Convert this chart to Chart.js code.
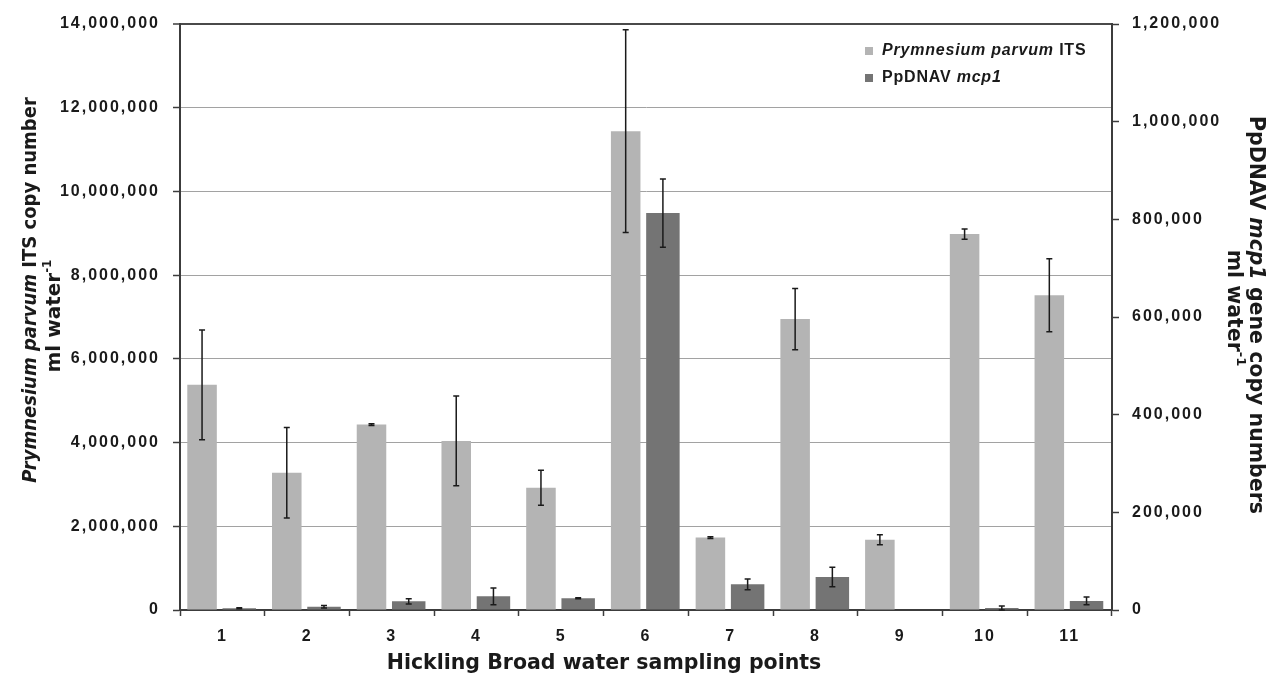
<!DOCTYPE html>
<html>
<head>
<meta charset="utf-8">
<title>Hickling Broad water sampling points</title>
<script src="https://cdn.jsdelivr.net/npm/chart.js@4.4.1/dist/chart.umd.min.js"></script>
<style>
  html, body { margin: 0; padding: 0; background: #fff; }
  #chart { display: block; }
</style>
</head>
<body>
<canvas id="chart" width="1269" height="673"></canvas>
<script>
// sampling points
var samplingPoints = ['1', '2', '3', '4', '5', '6', '7', '8', '9', '10', '11'];

// Prymnesium parvum ITS copies per ml (left axis) and their error bars
var itsCopies = [5380000, 3280000, 4430000, 4040000, 2920000, 11440000, 1730000, 6950000, 1680000, 8980000, 7520000];
var itsErrors = [1310000, 1080000, 20000, 1070000, 420000, 2420000, 20000, 730000, 120000, 120000, 870000];

// PpDNAV mcp1 copies per ml (right axis) and their error bars
var mcpCopies = [3400, 6800, 17700, 28000, 23900, 812800, 52700, 67700, 0, 4000, 18500];
var mcpErrors = [1000, 2500, 5500, 17000, 1000, 70000, 11000, 20000, 0, 4000, 8000];

// axis ranges
var leftTicks = [0, 2000000, 4000000, 6000000, 8000000, 10000000, 12000000, 14000000];
var rightTicks = [0, 200000, 400000, 600000, 800000, 1000000, 1200000];

var lightGrey = '#b4b4b4';
var darkGrey = '#747474';
var axisColor = '#3c3c3c';
var textColor = '#1a1a1a';

// draws a line of text made of several runs (italic / superscript), centred or left aligned
function drawRich(ctx, parts, x, y, angle, size, family, align, spacing) {
    ctx.save();
    ctx.translate(x, y);
    ctx.rotate(angle);
    ctx.textBaseline = 'middle';
    ctx.textAlign = 'left';
    ctx.fillStyle = textColor;
    ctx.letterSpacing = (spacing || 0) + 'px';
    var fontFor = function (p) {
        return (p.italic ? 'italic ' : '') + 'bold ' + (p.sup ? Math.round(size * 0.62) : size) + 'px ' + family;
    };
    var w = 0;
    parts.forEach(function (p) {
        ctx.font = fontFor(p);
        w += ctx.measureText(p.text).width;
    });
    var cx = align === 'left' ? 0 : -w / 2;
    parts.forEach(function (p) {
        ctx.font = fontFor(p);
        ctx.fillText(p.text, cx, p.sup ? -size * 0.38 : 0);
        cx += ctx.measureText(p.text).width;
    });
    ctx.restore();
}

// error bars from each dataset's "errors" array, drawn through the dataset's own y scale
var errorBars = {
    id: 'errorBars',
    afterDatasetsDraw: function (chart) {
        var ctx = chart.ctx;
        ctx.save();
        ctx.strokeStyle = textColor;
        ctx.lineWidth = 1.5;
        chart.data.datasets.forEach(function (ds, i) {
            var meta = chart.getDatasetMeta(i);
            var yScale = chart.scales[ds.yAxisID];
            meta.data.forEach(function (bar, j) {
                var e = ds.errors[j];
                if (!e) return;
                var top = yScale.getPixelForValue(ds.data[j] + e);
                var bot = yScale.getPixelForValue(ds.data[j] - e);
                var x = bar.x;
                ctx.beginPath();
                ctx.moveTo(x, top); ctx.lineTo(x, bot);
                ctx.moveTo(x - 3, top); ctx.lineTo(x + 3, top);
                ctx.moveTo(x - 3, bot); ctx.lineTo(x + 3, bot);
                ctx.stroke();
            });
        });
        ctx.restore();
    }
};

// spaced-out tick labels, then axis titles and legend
var decorations = {
    id: 'decorations',
    beforeDraw: function (chart) {
        chart.ctx.letterSpacing = '2px';
    },
    afterDraw: function (chart) {
        var ctx = chart.ctx;
        ctx.letterSpacing = '0px';
        var condensed = '"DejaVu Sans Condensed", "DejaVu Sans", sans-serif';
        var dejavu = '"DejaVu Sans", sans-serif';

        // left axis title
        drawRich(ctx, [
            { text: 'Prymnesium parvum', italic: true },
            { text: ' ITS copy number' }
        ], 31, 290, -Math.PI / 2, 20, condensed, 'center');
        drawRich(ctx, [
            { text: 'ml water' },
            { text: '-1', sup: true }
        ], 55, 316, -Math.PI / 2, 20, dejavu, 'center');

        // right axis title
        drawRich(ctx, [
            { text: 'PpDNAV ' },
            { text: 'mcp1', italic: true },
            { text: ' gene copy numbers' }
        ], 1255, 315, Math.PI / 2, 20.5, dejavu, 'center');
        drawRich(ctx, [
            { text: 'ml water' },
            { text: '-1', sup: true }
        ], 1233, 308, Math.PI / 2, 20.5, dejavu, 'center');

        // x axis title
        drawRich(ctx, [
            { text: 'Hickling Broad water sampling points' }
        ], 604, 664, 0, 20.5, dejavu, 'center');

        // legend
        var legendRows = [
            { color: lightGrey, parts: [{ text: 'Prymnesium parvum', italic: true }, { text: ' ITS' }] },
            { color: darkGrey, parts: [{ text: 'PpDNAV ' }, { text: 'mcp1', italic: true }] }
        ];
        legendRows.forEach(function (row, k) {
            var y = 51 + k * 27;
            ctx.fillStyle = row.color;
            ctx.fillRect(865, y - 4, 8, 8);
            drawRich(ctx, row.parts, 882, y, 0, 16, '"Liberation Sans", Arial, sans-serif', 'left', 0.8);
        });
    }
};

var tickFont = { family: '"Liberation Sans", Arial, sans-serif', size: 16, weight: 'bold' };

new Chart(document.getElementById('chart'), {
    type: 'bar',
    data: {
        labels: samplingPoints,
        datasets: [
            {
                label: 'Prymnesium parvum ITS',
                data: itsCopies,
                errors: itsErrors,
                yAxisID: 'y',
                backgroundColor: lightGrey,
                categoryPercentage: 0.959,
                barPercentage: 0.727
            },
            {
                label: 'PpDNAV mcp1',
                data: mcpCopies,
                errors: mcpErrors,
                yAxisID: 'y1',
                backgroundColor: darkGrey,
                categoryPercentage: 0.798,
                barPercentage: 0.99
            }
        ]
    },
    options: {
        responsive: false,
        animation: false,
        layout: { padding: { top: 24, left: 0, right: 0, bottom: 0 } },
        plugins: {
            legend: { display: false },
            tooltip: { enabled: false }
        },
        scales: {
            x: {
                grid: { drawOnChartArea: false, offset: true, tickColor: axisColor, tickLength: 6, tickWidth: 1.5 },
                border: { color: axisColor, width: 2 },
                ticks: { font: tickFont, color: textColor, padding: 11, maxRotation: 0 },
                afterFit: function (scale) { scale.height = 63; }
            },
            y: {
                position: 'left',
                min: leftTicks[0],
                max: leftTicks[leftTicks.length - 1],
                afterBuildTicks: function (scale) {
                    scale.ticks = leftTicks.map(function (v) { return { value: v }; });
                },
                grid: {
                    color: function (c) { return c.tick && c.tick.value === 14000000 ? '#4a4a4a' : '#a2a2a2'; },
                    lineWidth: function (c) { return c.tick && c.tick.value === 14000000 ? 2 : 1; },
                    tickColor: axisColor,
                    tickLength: 7,
                    tickWidth: 1.5
                },
                border: { color: axisColor, width: 2 },
                ticks: {
                    font: tickFont,
                    color: textColor,
                    padding: 13,
                    callback: function (v) { return Number(v).toLocaleString('en-US'); }
                },
                afterFit: function (scale) { scale.width = 180; }
            },
            y1: {
                position: 'right',
                min: rightTicks[0],
                max: rightTicks[rightTicks.length - 1],
                afterBuildTicks: function (scale) {
                    scale.ticks = rightTicks.map(function (v) { return { value: v }; });
                },
                grid: { drawOnChartArea: false, tickColor: axisColor, tickLength: 7, tickWidth: 1.5 },
                border: { color: axisColor, width: 2 },
                ticks: {
                    font: tickFont,
                    color: textColor,
                    padding: 13,
                    callback: function (v) { return Number(v).toLocaleString('en-US'); }
                },
                afterFit: function (scale) { scale.width = 157; }
            }
        }
    },
    plugins: [errorBars, decorations]
});
</script>
</body>
</html>
